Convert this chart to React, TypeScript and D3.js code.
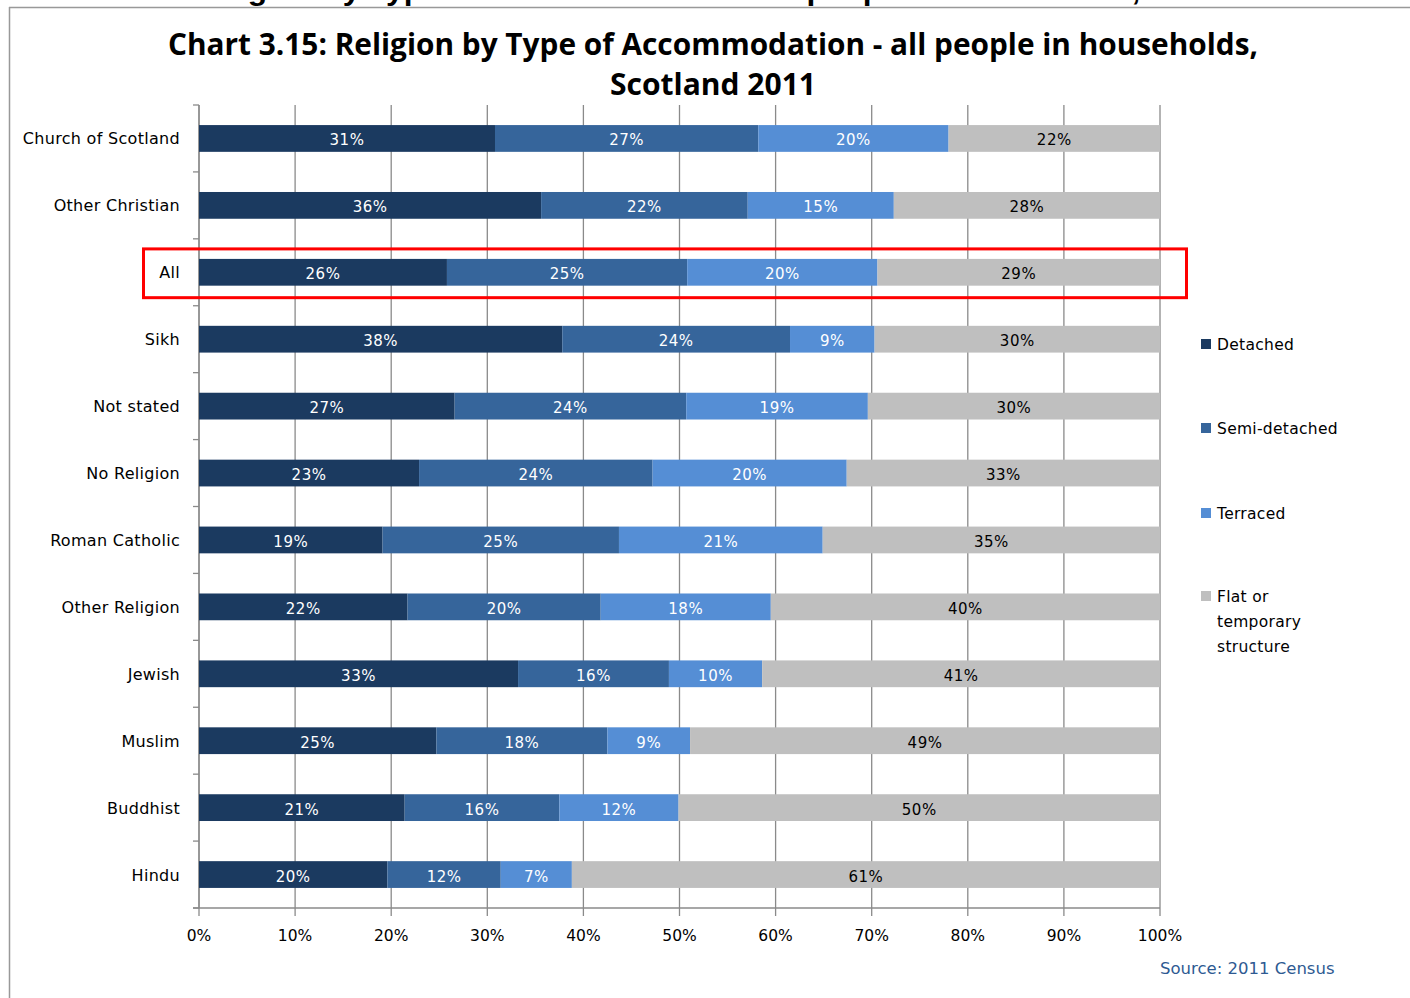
import React from "react";
import * as d3 from "d3";

const categories = [
  "Church of Scotland", "Other Christian", "All", "Sikh", "Not stated", "No Religion",
  "Roman Catholic", "Other Religion", "Jewish", "Muslim", "Buddhist", "Hindu",
];
const seriesNames = ["Detached", "Semi-detached", "Terraced", "Flat or temporary structure"];
const detached = [30.8, 35.6, 25.8, 37.8, 26.6, 22.9, 19.1, 21.7, 33.2, 24.7, 21.4, 19.6];
const semiDetached = [27.4, 21.5, 25.0, 23.7, 24.1, 24.3, 24.6, 20.1, 15.7, 17.8, 16.1, 11.8];
const terraced = [19.8, 15.2, 19.8, 8.8, 18.9, 20.2, 21.2, 17.7, 9.7, 8.6, 12.4, 7.4];
const flat = [21.9, 27.7, 29.4, 29.7, 30.4, 32.6, 35.1, 40.4, 41.4, 48.9, 50.1, 61.2];
const xTicks = [0, 10, 20, 30, 40, 50, 60, 70, 80, 90, 100];
const colors = ["#1b3a60", "#36659b", "#558ed5", "#bfbfbf"];
const labelColors = ["#ffffff", "#ffffff", "#ffffff", "#000000"];

const W = 1410, H = 998;
const LEFT = 199, RIGHT = 1160, TOP = 105, BOTTOM = 908;
const FONT = "'DejaVu Sans', Verdana, sans-serif";

export default function App() {
  const x = d3.scaleLinear().domain([0, 100]).range([LEFT, RIGHT]);
  const y = d3.scaleBand().domain(categories).range([TOP, BOTTOM]).paddingInner(0.6).paddingOuter(0.3);
  const band = (BOTTOM - TOP) / categories.length;
  const table = categories.map((c, i) => ({
    cat: c, Detached: detached[i], "Semi-detached": semiDetached[i], Terraced: terraced[i],
    "Flat or temporary structure": flat[i],
  }));
  const stack = d3.stack<any>().keys(seriesNames)(table);
  const grid = "#8a8a8a";
  const allY = y("All")!;

  return (
    <svg width={W} height={H} style={{ position: "absolute", left: 0, top: 0 }} fontFamily={FONT}>
      <rect x={0} y={0} width={W} height={H} fill="#fff" />
      {/* cut-off header from page above */}
      <text x={20} y={0} fontSize={30} fontWeight="bold" fontFamily="'Liberation Sans', Arial, sans-serif"
        textLength={1340} lengthAdjust="spacingAndGlyphs" fill="#000">
        Table 3.15: Religion by Type of Accommodation - all people in households, Scotland 2011
      </text>
      <line x1={9} x2={W} y1={7.5} y2={7.5} stroke="#999" strokeWidth={1.5} />
      <line x1={9.5} x2={9.5} y1={7} y2={H} stroke="#999" strokeWidth={1.5} />

      {/* title */}
      <text x={713} y={55} textAnchor="middle" fontSize={31} fontWeight="bold"
        fontFamily="'Open Sans', 'Liberation Sans', sans-serif" textLength={1090} lengthAdjust="spacingAndGlyphs" fill="#000">
        Chart 3.15:  Religion by Type of Accommodation - all people in households,
      </text>
      <text x={713} y={95} textAnchor="middle" fontSize={31} fontWeight="bold"
        fontFamily="'Open Sans', 'Liberation Sans', sans-serif" textLength={206} lengthAdjust="spacingAndGlyphs" fill="#000">
        Scotland 2011
      </text>

      {/* gridlines */}
      {xTicks.map((t) => (
        <line key={"g" + t} x1={x(t)} x2={x(t)} y1={TOP} y2={BOTTOM + 8} stroke={grid} strokeWidth={1.3} />
      ))}
      {/* left axis */}
      <line x1={LEFT} x2={LEFT} y1={TOP} y2={BOTTOM} stroke={grid} strokeWidth={1.3} />
      {d3.range(categories.length + 1).map((k) => (
        <line key={"yt" + k} x1={LEFT - 6} x2={LEFT} y1={TOP + k * band} y2={TOP + k * band} stroke={grid} strokeWidth={1.3} />
      ))}
      {/* bottom axis */}
      <line x1={LEFT - 6} x2={RIGHT} y1={BOTTOM} y2={BOTTOM} stroke={grid} strokeWidth={1.3} />
      {xTicks.map((t) => (
        <text key={"xl" + t} x={x(t)} y={941} textAnchor="middle" fontSize={15.5} fill="#000">{t}%</text>
      ))}

      {/* bars */}
      {stack.map((s, si) => (
        <g key={s.key}>
          {s.map((d, i) => {
            const x0 = x(d[0]);
            const x1 = si === stack.length - 1 ? x(100) : x(d[1]);
            const yy = y(categories[i])!;
            return (
              <g key={i}>
                <rect x={x0} y={yy} width={x1 - x0} height={y.bandwidth()} fill={colors[si]} />
                <text x={(x0 + x1) / 2} y={yy + y.bandwidth() / 2 + 7} textAnchor="middle" fontSize={15}
                  letterSpacing={0.5} fill={labelColors[si]}>{Math.round(d[1] - d[0])}%</text>
              </g>
            );
          })}
        </g>
      ))}

      {/* category labels */}
      {categories.map((c) => (
        <text key={c} x={180} y={y(c)! + y.bandwidth() / 2 + 6} textAnchor="end" fontSize={16}
          letterSpacing={0.3} fill="#000">{c}</text>
      ))}

      {/* highlight */}
      <rect x={143.5} y={allY - 10} width={1043} height={y.bandwidth() + 22} fill="none" stroke="#ff0000" strokeWidth={3} />

      {/* legend */}
      {[
        { y: 344, lines: ["Detached"] },
        { y: 428, lines: ["Semi-detached"] },
        { y: 513, lines: ["Terraced"] },
        { y: 596, lines: ["Flat or", "temporary", "structure"] },
      ].map((l, i) => (
        <g key={i}>
          <rect x={1201} y={l.y - 5} width={10} height={10} fill={colors[i]} />
          {l.lines.map((t, j) => (
            <text key={j} x={1217} y={l.y + 6 + j * 25} fontSize={15.5} letterSpacing={0.3} fill="#000">{t}</text>
          ))}
        </g>
      ))}

      <text x={1160} y={974} fontSize={16.5} fill="#2e5a92">Source:  2011 Census</text>
    </svg>
  );
}
